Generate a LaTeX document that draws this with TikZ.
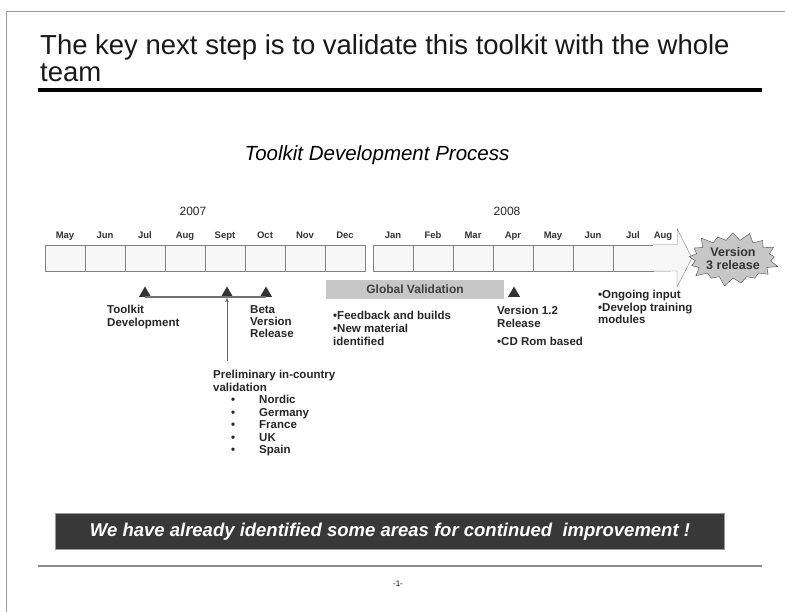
\documentclass[tikz,border=0pt]{standalone}
\usepackage{fontspec}
\setmainfont{Liberation Sans}
\usetikzlibrary{arrows,shapes.geometric,shapes.symbols}

\begin{document}
\begin{tikzpicture}[x=1pt,y=-1pt]
    \tikzset{cell/.style = {draw=black!50, fill=black!3, minimum width=40pt, minimum height=26pt, inner sep=0pt}}
    \tikzset{month/.style = {font=\bfseries\fontsize{9.5}{11}\selectfont, text=black!80, anchor=base}}
    \tikzset{year/.style = {font=\fontsize{12}{14}\selectfont, text=black!85, anchor=base}}
    \tikzset{milestone/.style = {regular polygon, regular polygon sides=3, fill=black!80, inner sep=0pt, minimum size=14pt}}
    \tikzset{note/.style = {font=\bfseries\fontsize{11.5}{12.5}\selectfont, text=black!85, align=left, anchor=north west, inner sep=0pt}}
    \tikzset{heading/.style = {font=\fontsize{27.5}{30}\selectfont, text=black!90, anchor=base west, inner sep=0pt}}
    \tikzset{edge/.style = {->,> = latex', black!60, line width=0.7pt}}
    \useasboundingbox (0,0) rectangle (785,612);
    \draw[black!40] (6,612) -- (6,11) -- (785,11);
    % title
    \node[heading] (title1) at (40,55) {The key next step is to validate this toolkit with the whole};
    \node[heading] (title2) at (40,81.5) {team};
    \draw[line width=4pt] (38,90) -- (762,90);
    \node[font=\itshape\fontsize{20.5}{22}\selectfont, anchor=base] (process) at (377,161) {Toolkit Development Process};
    \node[year] (y2007) at (193,216) {2007};
    \node[year] (y2008) at (507,216) {2008};
    % months
    \foreach \m [count=\i from 0] in {May,Jun,Jul,Aug,Sept,Oct,Nov,Dec} {
        \node[cell] (c\i) at ({65+40*\i},258) {};
        \node[month] (m\i) at ({65+40*\i},239) {\m};
    }
    \foreach \m [count=\i from 8] in {Jan,Feb,Mar,Apr,May,Jun,Jul} {
        \node[cell] (c\i) at ({393+40*(\i-8)},258) {};
        \node[month] (m\i) at ({393+40*(\i-8)},239) {\m};
    }
    \coordinate (tip) at (692,258);
    \draw[draw=black!50, fill=black!3] (c14.north east) -- ++(24,0) -- ++(0,-16) -- (tip) -- ++(-15,29) -- ++(0,-16) -- (c14.south east);
    \node[month] (m15) at (663,239) {Aug};
    \node[starburst, starburst points=17, starburst point height=10pt, fill=black!22, draw=black!70,
          minimum width=84pt, minimum height=58pt, align=center, inner sep=0pt,
          font=\bfseries\fontsize{12.5}{13}\selectfont, text=black!80] (v3) at (733,259) {Version\\3 release};
    % milestones
    \node[milestone] (t1) at (145,293.5) {};
    \node[milestone] (t2) at (227,293.5) {};
    \node[milestone] (t3) at (266,293.5) {};
    \node[milestone] (t4) at (514,293.5) {};
    \draw[black!55, line width=1.5pt] (t1.south) -- (t3.south);
    \node[fill=black!22, minimum width=178pt, minimum height=19pt, inner sep=0pt,
          font=\bfseries\fontsize{12}{13}\selectfont, text=black!75] (global) at (415,289.5) {Global Validation};
    % notes
    \node[note] (dev) at (107,305) {Toolkit\\Development};
    \node[note, font=\bfseries\fontsize{11.5}{12}\selectfont] (beta) at (250,305) {Beta\\Version\\Release};
    \node[note] (prelim) at (213,370) {Preliminary in-country\\validation\\
        \hspace*{18pt}\textbullet\hspace{24pt}Nordic\\
        \hspace*{18pt}\textbullet\hspace{24pt}Germany\\
        \hspace*{18pt}\textbullet\hspace{24pt}France\\
        \hspace*{18pt}\textbullet\hspace{24pt}UK\\
        \hspace*{18pt}\textbullet\hspace{24pt}Spain};
    \coordinate (pfoot) at (227,361);
    \draw[edge] (pfoot) -- (t2.south);
    \node[note, font=\bfseries\fontsize{11.5}{12.8}\selectfont] (feedback) at (333,311) {\textbullet Feedback and builds\\\textbullet New material\\identified};
    \node[note] (v12) at (497,306) {Version 1.2\\Release};
    \node[note] (cdrom) at (497,337) {\textbullet CD Rom based};
    \node[note] (ongoing) at (598,290) {\textbullet Ongoing input\\\textbullet Develop training\\modules};
    % bottom
    \node[fill=black!78, draw=black!40, line width=1pt, minimum width=669pt, minimum height=36pt,
          text=white, font=\bfseries\itshape\fontsize{18.5}{20}\selectfont] (banner) at (390,531.5)
          {We have already identified some areas for continued\ \ improvement !};
    \draw[black!45, line width=2.5pt] (38,566) -- (762,566);
    \node[font=\fontsize{8}{9}\selectfont] (page) at (398,584) {-1-};
\end{tikzpicture}
\end{document}
